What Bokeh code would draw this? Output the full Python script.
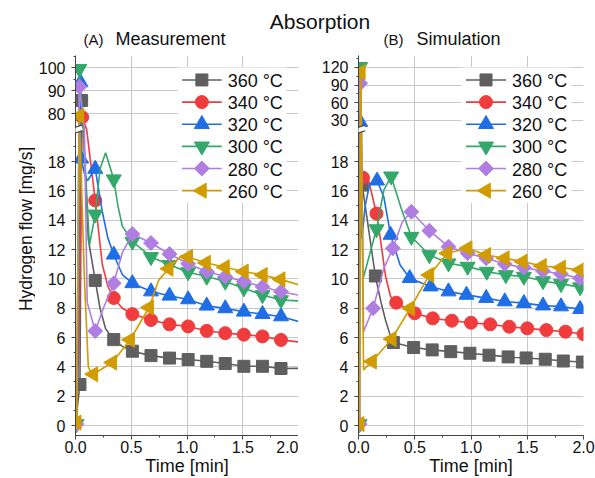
import numpy as np
from bokeh.plotting import figure
from bokeh.layouts import column, row
from bokeh.models import (Range1d, FixedTicker, SingleIntervalTicker, NumeralTickFormatter,
                          CustomJSTickFormatter, Arrow)
from bokeh.core.properties import value
from bokeh.embed import file_html
from bokeh.resources import INLINE

# ---------------- data ----------------
series_labels = ["360 °C", "340 °C", "320 °C", "300 °C", "280 °C", "260 °C"]

# (A) Measurement  -- lines (time [min], flow [mg/s]) and marker points
a360_t = [0.0, 0.02, 0.04, 0.055, 0.07, 0.115, 0.177, 0.22, 0.27, 0.343, 0.42, 0.51, 0.677, 0.843, 1.01, 1.177, 1.343, 1.51, 1.677, 1.843, 2.0]
a360_y = [0.0, 1.5, 2.8, 85.7, 21.0, 12.7, 9.9, 8.0, 6.6, 5.86, 5.4, 5.07, 4.77, 4.6, 4.5, 4.38, 4.23, 4.04, 4.04, 3.89, 3.9]
a360_mt = [0.04, 0.055, 0.177, 0.343, 0.51, 0.677, 0.843, 1.01, 1.177, 1.343, 1.51, 1.677, 1.843]
a360_my = [2.8, 85.7, 9.9, 5.86, 5.07, 4.77, 4.6, 4.5, 4.38, 4.23, 4.04, 4.04, 3.89]

a340_t = [0.0, 0.03, 0.06, 0.1, 0.177, 0.24, 0.29, 0.343, 0.42, 0.51, 0.677, 0.843, 1.01, 1.177, 1.343, 1.51, 1.677, 1.843, 2.0]
a340_y = [0.0, 5.0, 78.4, 21.0, 15.35, 11.0, 9.5, 8.7, 8.0, 7.6, 7.2, 6.9, 6.76, 6.46, 6.3, 6.2, 6.08, 5.84, 5.7]
a340_mt = [0.06, 0.177, 0.343, 0.51, 0.677, 0.843, 1.01, 1.177, 1.343, 1.51, 1.677, 1.843]
a340_my = [78.4, 15.35, 8.7, 7.6, 7.2, 6.9, 6.76, 6.46, 6.3, 6.2, 6.08, 5.84]

a320_t = [0.0, 0.02, 0.045, 0.05, 0.08, 0.107, 0.177, 0.24, 0.29, 0.343, 0.42, 0.51, 0.677, 0.843, 1.01, 1.177, 1.343, 1.51, 1.677, 1.843, 2.0]
a320_y = [0.0, 3.0, 93.6, 18.2, 17.2, 16.7, 17.5, 14.6, 12.8, 11.65, 10.3, 9.7, 9.14, 8.85, 8.6, 8.17, 7.99, 7.76, 7.6, 7.44, 7.1]
a320_mt = [0.045, 0.05, 0.177, 0.343, 0.51, 0.677, 0.843, 1.01, 1.177, 1.343, 1.51, 1.677, 1.843]
a320_my = [93.6, 18.2, 17.5, 11.65, 9.7, 9.14, 8.85, 8.6, 8.17, 7.99, 7.76, 7.6, 7.44]

a300_t = [0.0, 0.01, 0.035, 0.07, 0.125, 0.177, 0.22, 0.27, 0.343, 0.38, 0.42, 0.51, 0.6, 0.677, 0.843, 1.01, 1.177, 1.343, 1.51, 1.677, 1.843, 2.0]
a300_y = [0.0, 0.1, 99.5, 21.0, 12.3, 14.4, 17.5, 18.6, 16.8, 15.0, 13.6, 12.55, 12.0, 11.5, 10.96, 10.46, 10.16, 9.82, 9.37, 8.9, 8.56, 8.5]
a300_mt = [0.01, 0.035, 0.177, 0.343, 0.51, 0.677, 0.843, 1.01, 1.177, 1.343, 1.51, 1.677, 1.843]
a300_my = [0.1, 99.5, 14.4, 16.8, 12.55, 11.5, 10.96, 10.46, 10.16, 9.82, 9.37, 8.9, 8.56]

a280_t = [0.0, 0.01, 0.035, 0.08, 0.105, 0.177, 0.25, 0.343, 0.42, 0.51, 0.677, 0.843, 1.01, 1.177, 1.343, 1.51, 1.677, 1.843, 2.0]
a280_y = [0.0, 0.1, 91.7, 20.5, 8.4, 6.45, 8.0, 9.7, 11.8, 13.06, 12.45, 11.7, 11.03, 10.5, 10.16, 9.82, 9.47, 9.13, 8.9]
a280_mt = [0.01, 0.035, 0.177, 0.343, 0.51, 0.677, 0.843, 1.01, 1.177, 1.343, 1.51, 1.677, 1.843]
a280_my = [0.1, 91.7, 6.45, 9.7, 13.06, 12.45, 11.7, 11.03, 10.5, 10.16, 9.82, 9.47, 9.13]

a260_t = [0.0, 0.01, 0.035, 0.08, 0.115, 0.135, 0.16, 0.33, 0.49, 0.66, 0.745, 0.835, 0.95, 1.01, 1.17, 1.34, 1.51, 1.68, 1.84, 2.0]
a260_y = [0.0, 0.2, 79.1, 10.0, 4.0, 3.7, 3.5, 4.3, 5.85, 8.05, 9.9, 10.7, 11.6, 11.5, 11.1, 10.8, 10.5, 10.27, 9.97, 9.6]
a260_mt = [0.01, 0.035, 0.16, 0.33, 0.49, 0.66, 0.835, 1.01, 1.17, 1.34, 1.51, 1.68, 1.84]
a260_my = [0.2, 79.1, 3.5, 4.3, 5.85, 8.05, 10.7, 11.5, 11.1, 10.8, 10.5, 10.27, 9.97]

# (B) Simulation
b360_t = [0.0, 0.015, 0.033, 0.15, 0.2, 0.24, 0.28, 0.31, 0.49, 0.655, 0.82, 0.99, 1.16, 1.33, 1.49, 1.66, 1.82, 1.99, 2.0]
b360_y = [0.0, 19.5, 16.4, 10.2, 8.4, 7.2, 6.2, 5.66, 5.32, 5.16, 5.04, 4.93, 4.8, 4.68, 4.61, 4.52, 4.4, 4.33, 4.33]
b360_mt = [0.033, 0.15, 0.31, 0.49, 0.655, 0.82, 0.99, 1.16, 1.33, 1.49, 1.66, 1.82, 1.99]
b360_my = [16.4, 10.2, 5.66, 5.32, 5.16, 5.04, 4.93, 4.8, 4.68, 4.61, 4.52, 4.4, 4.33]

b340_t = [0.0, 0.01, 0.04, 0.09, 0.16, 0.195, 0.24, 0.285, 0.335, 0.5, 0.66, 0.83, 1.0, 1.17, 1.34, 1.5, 1.67, 1.84, 2.0]
b340_y = [0.0, 18.5, 16.9, 16.7, 14.46, 12.7, 10.2, 8.8, 8.38, 7.66, 7.31, 7.15, 7.01, 6.9, 6.74, 6.63, 6.51, 6.4, 6.24]
b340_mt = [0.04, 0.16, 0.335, 0.5, 0.66, 0.83, 1.0, 1.17, 1.34, 1.5, 1.67, 1.84, 2.0]
b340_my = [16.9, 14.46, 8.38, 7.66, 7.31, 7.15, 7.01, 6.9, 6.74, 6.63, 6.51, 6.4, 6.24]

b320_t = [0.0, 0.015, 0.03, 0.06, 0.1, 0.165, 0.225, 0.285, 0.37, 0.455, 0.64, 0.80, 0.96, 1.135, 1.30, 1.47, 1.64, 1.80, 1.97, 2.0]
b320_y = [0.0, 27.0, 12.8, 15.0, 16.5, 16.7, 15.6, 13.0, 10.95, 10.05, 9.48, 9.14, 8.91, 8.69, 8.46, 8.35, 8.18, 8.12, 7.94, 7.9]
b320_mt = [0.015, 0.165, 0.285, 0.455, 0.64, 0.80, 0.96, 1.135, 1.30, 1.47, 1.64, 1.80, 1.97]
b320_my = [27.0, 16.7, 13.0, 10.05, 9.48, 9.14, 8.91, 8.69, 8.46, 8.35, 8.18, 8.12, 7.94]

b300_t = [0.0, 0.01, 0.015, 0.025, 0.04, 0.16, 0.225, 0.29, 0.38, 0.47, 0.63, 0.80, 0.97, 1.14, 1.31, 1.47, 1.64, 1.80, 1.97, 2.0]
b300_y = [0.0, 0.1, 121.0, 36.0, 10.0, 13.4, 16.05, 17.0, 14.8, 12.88, 11.63, 11.07, 10.84, 10.5, 10.27, 10.16, 9.86, 9.66, 9.44, 9.4]
b300_mt = [0.01, 0.015, 0.16, 0.29, 0.47, 0.63, 0.80, 0.97, 1.14, 1.31, 1.47, 1.64, 1.80, 1.97]
b300_my = [0.1, 121.0, 13.4, 17.0, 12.88, 11.63, 11.07, 10.84, 10.5, 10.27, 10.16, 9.86, 9.66, 9.44]

b280_t = [0.0, 0.01, 0.015, 0.025, 0.045, 0.13, 0.225, 0.305, 0.39, 0.47, 0.63, 0.80, 0.97, 1.135, 1.30, 1.47, 1.64, 1.80, 1.97, 2.0]
b280_y = [0.0, 0.1, 93.0, 33.0, 6.4, 8.0, 10.7, 12.09, 13.9, 14.58, 13.29, 12.2, 11.75, 11.41, 11.02, 10.77, 10.54, 10.34, 10.05, 10.0]
b280_mt = [0.01, 0.015, 0.13, 0.305, 0.47, 0.63, 0.80, 0.97, 1.135, 1.30, 1.47, 1.64, 1.80, 1.97]
b280_my = [0.1, 93.0, 8.0, 12.09, 14.58, 13.29, 12.2, 11.75, 11.41, 11.02, 10.77, 10.54, 10.34, 10.05]

b260_t = [0.0, 0.01, 0.02, 0.045, 0.12, 0.295, 0.46, 0.63, 0.79, 0.97, 1.135, 1.30, 1.46, 1.63, 1.80, 1.97, 2.0]
b260_y = [0.0, 0.1, 112.0, 3.8, 4.37, 5.9, 8.0, 10.27, 11.75, 12.09, 11.63, 11.41, 11.18, 10.88, 10.77, 10.61, 10.6]
b260_mt = [0.01, 0.02, 0.12, 0.295, 0.46, 0.63, 0.79, 0.97, 1.135, 1.30, 1.46, 1.63, 1.80, 1.97]
b260_my = [0.1, 112.0, 4.37, 5.9, 8.0, 10.27, 11.75, 12.09, 11.63, 11.41, 11.18, 10.88, 10.77, 10.61]

# broken-axis upper segment ticks
a_top_major = [80, 90, 100]
a_top_minor = [85, 95, 105]
b_top_major = [30, 60, 90, 120]
b_top_minor = [45, 75, 105, 135]

# ---------------- style ----------------
FONT = "Liberation Sans"
TXT = "#111111"
COLORS = ["#5f5f5f", "#f03c3c", "#1f6ee6", "#33a86a", "#b07ee2", "#d09c00"]
MARKERS = ["square", "circle", "triangle", "inverted_triangle", "square", "triangle"]
ANGLES = [0, 0, 0, 0, np.pi / 4, np.pi / 2]
SIZES = [12, 13, 15, 15, 10.5, 15]
AXIS_C = "#444444"

PANEL_H = 423
FRAME_W, FRAME_H = 225, 381
X_LO, X_HI = 0.0, 2.0
Y_LO, Y_HI = -0.68, 25.24
LOW_TOP = 20.07      # top of the lower (0..20) segment
GAP_Y = 20.2         # values inside the break are pinned here
SEG_BASE = 20.34     # display position of the upper segment's bottom


def px_x(px):
    return X_LO + px * (X_HI - X_LO) / FRAME_W


def px_y(py):
    return Y_HI - py * (Y_HI - Y_LO) / FRAME_H


def brk(y, lo, hi):
    y = np.asarray(y, dtype=float)
    k = (Y_HI - SEG_BASE) / (hi - lo)
    top = np.maximum(SEG_BASE + (y - lo) * k, GAP_Y)
    return np.where(y <= LOW_TOP, y, top)


def text_fig(width, height):
    f = figure(width=width, height=height, x_range=Range1d(0, width), y_range=Range1d(0, height),
               toolbar_location=None, output_backend="svg", min_border=0, title=None,
               x_axis_location=None, y_axis_location=None)
    f.outline_line_color = None
    f.grid.visible = False
    return f


def make_panel(series, lo, hi, top_major, top_minor, width, left, right):
    p = figure(width=width, height=PANEL_H, x_range=Range1d(X_LO, X_HI), y_range=Range1d(Y_LO, Y_HI),
               min_border_left=left, min_border_right=right, min_border_top=0,
               min_border_bottom=PANEL_H - FRAME_H,
               toolbar_location=None, output_backend="svg", title=None)
    p.outline_line_color = None
    p.background_fill_color = "white"
    p.border_fill_color = "white"

    p.xaxis.ticker = SingleIntervalTicker(interval=0.5, num_minor_ticks=2)
    p.xaxis.formatter = NumeralTickFormatter(format="0.0")
    p.xgrid.ticker = SingleIntervalTicker(interval=0.5)
    p.xaxis.axis_label = "Time [min]"
    p.xaxis.axis_label_text_font = FONT
    p.xaxis.axis_label_text_font_size = "18px"
    p.xaxis.axis_label_text_font_style = "normal"
    p.xaxis.axis_label_text_color = TXT
    p.xaxis.axis_label_standoff = 0

    k = (Y_HI - SEG_BASE) / (hi - lo)
    major = [float(v) for v in range(0, 19, 2)] + [float(v) for v in brk(top_major, lo, hi)]
    minor = [float(v) for v in range(1, 20, 2)] + [float(v) for v in brk(top_minor, lo, hi)]
    p.yaxis.ticker = FixedTicker(ticks=major, minor_ticks=minor)
    p.ygrid.ticker = FixedTicker(ticks=major)
    p.yaxis.formatter = CustomJSTickFormatter(
        args=dict(lo=lo, k=k, base=SEG_BASE, cut=LOW_TOP),
        code="""
        if (tick <= cut + 0.01) { return tick.toFixed(0); }
        return Math.round(lo + (tick - base) / k).toString();
        """)
    for ax in p.axis:
        ax.axis_line_color = AXIS_C
        ax.major_tick_line_color = AXIS_C
        ax.minor_tick_line_color = AXIS_C
        ax.major_tick_in = 0
        ax.major_tick_out = 4
        ax.minor_tick_in = 0
        ax.minor_tick_out = 2
        ax.major_label_text_font = FONT
        ax.major_label_text_font_size = "16px"
        ax.major_label_text_color = TXT
    p.yaxis.major_label_standoff = 6
    p.xaxis.major_label_standoff = 1
    p.grid.grid_line_color = "#c8c8c8"
    p.grid.grid_line_width = 1

    for i, (t, y, mt, my) in enumerate(series):
        p.line(t, brk(y, lo, hi), line_color=COLORS[i], line_width=1.6)
        p.scatter(mt, brk(my, lo, hi), marker=MARKERS[i], angle=ANGLES[i], size=SIZES[i],
                  fill_color=COLORS[i], line_color=COLORS[i])

    # legend (drawn with glyphs so the markers keep their orientation)
    p.quad(left=px_x(103), right=px_x(213), top=px_y(12), bottom=px_y(148),
           fill_color="white", line_color=None)
    for i, lab in enumerate(series_labels):
        cy = 24.5 + 22.2 * i
        yy = px_y(cy)
        p.line([px_x(107.5), px_x(147.5)], [yy, yy], line_color=COLORS[i], line_width=1.6)
        p.scatter([px_x(127.5)], [yy], marker=MARKERS[i], angle=ANGLES[i], size=SIZES[i],
                  fill_color=COLORS[i], line_color=COLORS[i])
        p.text([px_x(153.5)], [px_y(cy + 1.0)], text=[lab], text_font=value(FONT),
               text_font_size=value("18px"), text_baseline="alphabetic", text_align="left",
               text_color=TXT)

    # axis break marks
    for c, col, lw in [(74.85, "white", 4.5), (72.0, AXIS_C, 1.2), (77.7, AXIS_C, 1.2)]:
        p.add_layout(Arrow(start=None, end=None, x_start=px_x(-6.7), y_start=px_y(c + 2.3),
                           x_end=px_x(6.7), y_end=px_y(c - 2.3), line_color=col, line_width=lw))
    return p


series_a = [(a360_t, a360_y, a360_mt, a360_my), (a340_t, a340_y, a340_mt, a340_my),
            (a320_t, a320_y, a320_mt, a320_my), (a300_t, a300_y, a300_mt, a300_my),
            (a280_t, a280_y, a280_mt, a280_my), (a260_t, a260_y, a260_mt, a260_my)]
series_b = [(b360_t, b360_y, b360_mt, b360_my), (b340_t, b340_y, b340_mt, b340_my),
            (b320_t, b320_y, b320_mt, b320_my), (b300_t, b300_y, b300_mt, b300_my),
            (b280_t, b280_y, b280_mt, b280_my), (b260_t, b260_y, b260_mt, b260_my)]

pa = make_panel(series_a, 74.0, 105.3, a_top_major, a_top_minor, 263, 38, 0)
pb = make_panel(series_b, 18.0, 140.3, b_top_major, b_top_minor, 297, 60, 12)

# header: overall title and panel titles
header = text_fig(595, 55)
header.text([319.5], [34.5], text=["Absorption"], text_font=value(FONT), text_font_size=value("21px"),
            text_align="center", text_baseline="alphabetic", text_color=TXT)
header.text([83, 383], [16.5, 16.5], text=["(A)", "(B)"], text_font=value(FONT),
            text_font_size=value("15px"), text_align="left", text_baseline="alphabetic", text_color=TXT)
header.text([115, 416], [16.5, 16.5], text=["Measurement", "Simulation"], text_font=value(FONT),
            text_font_size=value("18px"), text_align="left", text_baseline="alphabetic", text_color=TXT)

# y-axis title
ylab = text_fig(35, PANEL_H)
ylab.text([25], [PANEL_H - 193], text=["Hydrogen flow [mg/s]"], angle=np.pi / 2, text_font=value(FONT),
          text_font_size=value("17.5px"), text_align="center", text_baseline="middle", text_color=TXT)

layout = column(header, row(ylab, pa, pb))
open("out.html", "w").write(file_html(layout, INLINE))
